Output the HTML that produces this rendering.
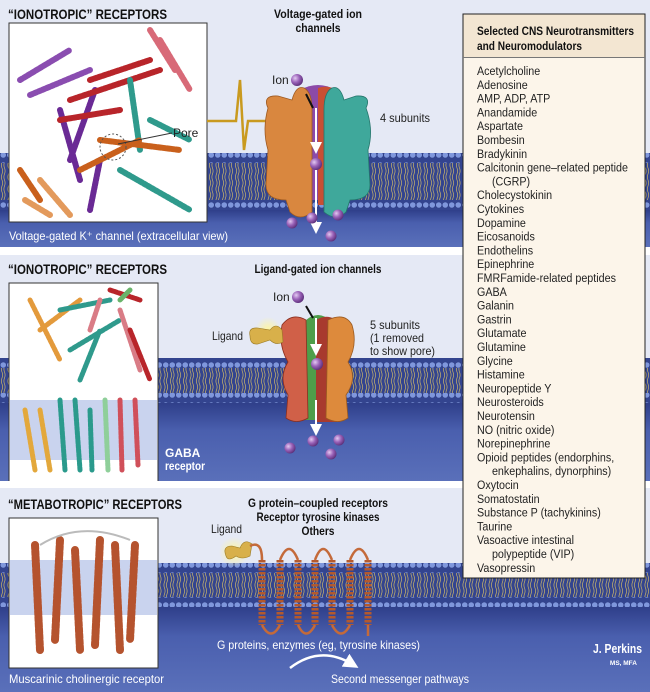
<!DOCTYPE html>
<html><head><meta charset="utf-8"><style>
html,body{margin:0;padding:0;background:#fff}
svg{display:block}
text{font-family:"Liberation Sans Narrow","Liberation Sans",sans-serif}
.h{font-weight:bold;font-size:14px;fill:#111}
.b{font-weight:bold;font-size:12px;fill:#111}
.t{font-size:12px;fill:#222}
.w{font-size:12px;fill:#fff}
.l{font-size:12.2px;fill:#222}
</style></head><body>
<svg width="650" height="692" viewBox="0 0 650 692" xmlns="http://www.w3.org/2000/svg">
<defs>
<pattern id="beads" width="6.5" height="10" patternUnits="userSpaceOnUse">
<rect width="6.5" height="10" fill="#33448f"/>
<circle cx="3.25" cy="5" r="3.1" fill="#7f97dc" stroke="#2d3d86" stroke-width="0.6"/>
</pattern>
<pattern id="tails" width="6.5" height="12" patternUnits="userSpaceOnUse">
<rect width="6.5" height="12" fill="#33448f"/>
<path d="M2 0 q1.2 3 0 6 q-1.2 3 0 6 M4.5 0 q1.2 3 0 6 q-1.2 3 0 6" stroke="#c9b46a" stroke-width="0.7" fill="none"/>
</pattern>
<linearGradient id="blue" x1="0" y1="0" x2="0" y2="1"><stop offset="0" stop-color="#2f3f8a"/><stop offset="0.35" stop-color="#4a5fae"/><stop offset="1" stop-color="#5a70ba"/></linearGradient>
<radialGradient id="ion" cx="0.35" cy="0.35" r="0.7"><stop offset="0" stop-color="#e3c9f2"/><stop offset="0.5" stop-color="#9a62b8"/><stop offset="1" stop-color="#5a2e78"/></radialGradient>
<radialGradient id="glow"><stop offset="0" stop-color="#fff6a0"/><stop offset="1" stop-color="#fff6a0" stop-opacity="0"/></radialGradient>
<marker id="ah" markerWidth="6" markerHeight="6" refX="3" refY="3" orient="auto"><path d="M0 0 L6 3 L0 6z" fill="#fff"/></marker>
</defs>

<!-- ========== PANEL 1 ========== -->
<rect x="0" y="0" width="650" height="247" fill="#e5e9f5"/>
<rect x="0" y="210" width="650" height="37" fill="url(#blue)"/>
<rect x="0" y="153" width="650" height="10" fill="url(#beads)"/>
<rect x="0" y="163" width="650" height="37" fill="url(#tails)"/>
<rect x="0" y="200" width="650" height="10" fill="url(#beads)"/>
<text x="8" y="19" class="h" textLength="159" lengthAdjust="spacingAndGlyphs">“IONOTROPIC” RECEPTORS</text>
<text x="318" y="18" class="b" text-anchor="middle" textLength="88" lengthAdjust="spacingAndGlyphs">Voltage-gated ion</text>
<text x="318" y="32" class="b" text-anchor="middle" textLength="45" lengthAdjust="spacingAndGlyphs">channels</text>
<rect x="9" y="23" width="198" height="199" fill="#fff" stroke="#333" stroke-width="1"/>
<g fill="none" stroke-width="6" stroke-dasharray="3 1.5" stroke-linecap="round">
<path d="M20 80 L70 50 M30 95 L90 70" stroke="#8a4db0"/>
<path d="M60 110 L80 180 M95 90 L70 160 M100 160 L90 210" stroke="#6a2a95"/>
<path d="M70 100 L160 70 M90 80 L150 60 M60 120 L120 110" stroke="#b8252a"/>
<path d="M160 40 L190 90 M150 30 L175 70" stroke="#d86a78"/>
<path d="M130 80 L140 150 M120 170 L190 210 M150 120 L190 140" stroke="#2f9a8c"/>
<path d="M100 140 L180 150 M80 170 L140 140 M20 170 L40 200" stroke="#c9601c"/>
<path d="M40 180 L70 215 M25 200 L50 215" stroke="#e39a5c"/>
</g>
<circle cx="113" cy="147" r="13" fill="none" stroke="#555" stroke-dasharray="2 2"/>
<line x1="118" y1="144" x2="172" y2="133" stroke="#333"/>
<text x="173" y="137" class="t">Pore</text>
<text x="9" y="240" class="w" textLength="219" lengthAdjust="spacingAndGlyphs">Voltage-gated K⁺ channel (extracellular view)</text>
<path d="M207 121 L236 121 L240 80 L244 150 L248 121 L270 121" stroke="#c99a1f" stroke-width="2.5" fill="none"/>
<path d="M268 116 L276 121 L268 126z" fill="#c99a1f"/>
<circle cx="276" cy="118" r="12" fill="url(#glow)"/>
<path d="M300 90 Q318 80 336 90 L336 200 L300 200z" fill="#8c4aa8"/>
<path d="M318 88 Q330 84 338 92 L338 205 L318 205z" fill="#c94f33"/>
<path d="M268 108 Q262 95 278 96 L292 100 Q296 85 304 88 Q312 92 312 110 L312 212 Q300 222 290 212 L286 200 Q266 200 266 185 L268 150 Q262 130 268 108z" fill="#d9873f" stroke="#9e5a22" stroke-width="0.8"/>
<path d="M366 108 Q372 95 356 96 L344 100 Q340 85 332 88 Q324 92 324 110 L324 212 Q336 222 346 212 L350 200 Q370 200 370 185 L368 150 Q374 130 366 108z" fill="#3fa89b" stroke="#25766c" stroke-width="0.8"/>
<line x1="306" y1="94" x2="313" y2="108" stroke="#111" stroke-width="2"/>
<line x1="316" y1="108" x2="316" y2="148" stroke="#fff" stroke-width="2" marker-end="url(#ah)"/>
<line x1="316" y1="170" x2="316" y2="228" stroke="#fff" stroke-width="2" marker-end="url(#ah)"/>
<text x="272" y="84" class="t">Ion</text>
<circle cx="297" cy="80" r="6" fill="url(#ion)"/>
<circle cx="316" cy="164" r="6" fill="url(#ion)"/>
<circle cx="292" cy="223" r="5.5" fill="url(#ion)"/>
<circle cx="312" cy="218" r="5.5" fill="url(#ion)"/>
<circle cx="338" cy="215" r="5.5" fill="url(#ion)"/>
<circle cx="331" cy="236" r="5.5" fill="url(#ion)"/>
<text x="380" y="122" class="t" textLength="50" lengthAdjust="spacingAndGlyphs">4 subunits</text>

<!-- ========== PANEL 2 ========== -->
<rect x="0" y="255" width="650" height="227" fill="#e5e9f5"/>
<rect x="0" y="403" width="650" height="79" fill="url(#blue)"/>
<rect x="0" y="358" width="650" height="10" fill="url(#beads)"/>
<rect x="0" y="368" width="650" height="25" fill="url(#tails)"/>
<rect x="0" y="393" width="650" height="10" fill="url(#beads)"/>
<text x="8" y="274" class="h" textLength="159" lengthAdjust="spacingAndGlyphs">“IONOTROPIC” RECEPTORS</text>
<text x="318" y="273" class="b" text-anchor="middle" textLength="127" lengthAdjust="spacingAndGlyphs">Ligand-gated ion channels</text>
<rect x="9" y="283" width="149" height="200" fill="#fff" stroke="#333"/>
<rect x="10" y="400" width="147" height="60" fill="#c9d3ee"/>
<g fill="none" stroke-width="5" stroke-dasharray="3 1.5" stroke-linecap="round">
<path d="M30 300 L60 360 M40 330 L80 300" stroke="#e39a3c"/>
<path d="M60 310 L110 300 M70 350 L120 320 M80 380 L100 330" stroke="#2f9a8c"/>
<path d="M100 300 L90 330 M120 310 L140 370" stroke="#d97c86"/>
<path d="M110 290 L140 300 M130 330 L150 380" stroke="#b8252a"/>
<path d="M120 300 L130 290" stroke="#69b46a"/>
<path d="M25 410 L35 470 M40 410 L50 470" stroke="#e3a83c"/>
<path d="M60 400 L65 470 M75 400 L80 470 M90 410 L92 470" stroke="#2a9a8c"/>
<path d="M105 400 L108 470" stroke="#8fcf9a"/>
<path d="M120 400 L122 470 M135 400 L138 465" stroke="#d0505a"/>
</g>
<text x="165" y="457" class="w" font-weight="bold">GABA</text>
<text x="165" y="470" class="w" font-weight="bold" textLength="40" lengthAdjust="spacingAndGlyphs">receptor</text>
<path d="M304 322 Q318 308 332 322 L332 420 L304 420z" fill="#4e9e4a"/>
<path d="M316 320 Q330 312 340 324 L340 422 L316 422z" fill="#a83a2e"/>
<path d="M282 325 Q292 312 306 320 L308 418 Q296 425 286 418 L288 395 Q278 378 288 362 Q278 345 282 325z" fill="#d06048" stroke="#8a2f20" stroke-width="0.8"/>
<path d="M352 325 Q345 312 328 320 L326 418 Q338 425 348 418 L346 395 Q358 378 348 362 Q358 345 352 325z" fill="#dd8a3c" stroke="#9a5a20" stroke-width="0.8"/>
<circle cx="268" cy="330" r="13" fill="url(#glow)"/>
<path d="M250 336 Q248 327 258 328 L270 330 Q276 322 282 330 L283 342 Q276 346 270 340 L258 344 Q250 345 250 336z" fill="#d8b04a" stroke="#9a7a24" stroke-width="0.6"/>
<line x1="306" y1="306" x2="313" y2="318" stroke="#111" stroke-width="2"/>
<line x1="316" y1="318" x2="316" y2="350" stroke="#fff" stroke-width="2" marker-end="url(#ah)"/>
<line x1="316" y1="400" x2="316" y2="430" stroke="#fff" stroke-width="2" marker-end="url(#ah)"/>
<text x="273" y="301" class="t">Ion</text>
<circle cx="298" cy="297" r="6" fill="url(#ion)"/>
<circle cx="317" cy="364" r="6" fill="url(#ion)"/>
<text x="212" y="340" class="t" textLength="31" lengthAdjust="spacingAndGlyphs">Ligand</text>
<text x="370" y="329" class="t" textLength="50" lengthAdjust="spacingAndGlyphs">5 subunits</text>
<text x="370" y="342" class="t" textLength="54" lengthAdjust="spacingAndGlyphs">(1 removed</text>
<text x="370" y="355" class="t" textLength="65" lengthAdjust="spacingAndGlyphs">to show pore)</text>
<circle cx="290" cy="448" r="5.5" fill="url(#ion)"/>
<circle cx="313" cy="441" r="5.5" fill="url(#ion)"/>
<circle cx="339" cy="440" r="5.5" fill="url(#ion)"/>
<circle cx="331" cy="454" r="5.5" fill="url(#ion)"/>

<!-- ========== PANEL 3 ========== -->
<rect x="0" y="488" width="650" height="204" fill="#e5e9f5"/>
<rect x="0" y="607" width="650" height="85" fill="url(#blue)"/>
<rect x="0" y="563" width="650" height="10" fill="url(#beads)"/>
<rect x="0" y="573" width="650" height="24" fill="url(#tails)"/>
<rect x="0" y="597" width="650" height="10" fill="url(#beads)"/>
<text x="8" y="509" class="h" textLength="174" lengthAdjust="spacingAndGlyphs">“METABOTROPIC” RECEPTORS</text>
<text x="318" y="507" class="b" text-anchor="middle" textLength="140" lengthAdjust="spacingAndGlyphs">G protein–coupled receptors</text>
<text x="318" y="521" class="b" text-anchor="middle" textLength="123" lengthAdjust="spacingAndGlyphs">Receptor tyrosine kinases</text>
<text x="318" y="535" class="b" text-anchor="middle" textLength="33" lengthAdjust="spacingAndGlyphs">Others</text>
<rect x="9" y="518" width="149" height="150" fill="#fff" stroke="#333"/>
<rect x="10" y="560" width="147" height="55" fill="#c9d3ee"/>
<g fill="none" stroke-width="8" stroke-dasharray="4 2" stroke-linecap="round" stroke="#b5532e">
<path d="M35 545 L40 650 M60 540 L55 640 M75 550 L80 650 M100 540 L95 645 M115 545 L120 650 M135 545 L130 640"/>
</g>
<path d="M40 545 Q80 520 130 540" stroke="#bbb" stroke-width="2" fill="none"/>
<text x="9" y="683" class="w" textLength="155" lengthAdjust="spacingAndGlyphs">Muscarinic cholinergic receptor</text>
<circle cx="234" cy="552" r="15" fill="url(#glow)"/>
<path d="M226 556 Q222 546 232 546 L240 548 Q244 538 252 544 L250 556 Q242 560 236 556 Q228 562 226 556z" fill="#d8b04a" stroke="#9a7a24" stroke-width="0.6"/>
<path d="M250 546 Q262 540 262 560" stroke="#c46a3a" stroke-width="2.5" fill="none"/>
<g fill="none" stroke="#b5592c" stroke-width="7" stroke-dasharray="2.5 1.5">
<path d="M262 560 L262 625 M280 560 L280 625 M298 560 L298 625 M315 560 L315 625 M332 560 L332 625 M350 560 L350 625 M368 560 L368 625"/>
</g>
<g fill="none" stroke="#c46a3a" stroke-width="2.5">
<path d="M280 560 Q289 538 298 560 M315 560 Q323 538 332 560 M350 560 Q359 538 368 560"/>
<path d="M262 625 Q271 642 280 625 M298 625 Q306 642 315 625 M332 625 Q341 642 350 625 M368 625 L368 636"/>
</g>
<text x="211" y="533" class="t" textLength="31" lengthAdjust="spacingAndGlyphs">Ligand</text>
<text x="217" y="649" class="w" textLength="203" lengthAdjust="spacingAndGlyphs">G proteins, enzymes (eg, tyrosine kinases)</text>
<path d="M290 668 Q320 645 352 664" stroke="#fff" stroke-width="2.5" fill="none" marker-end="url(#ah)"/>
<text x="331" y="683" class="w" textLength="138" lengthAdjust="spacingAndGlyphs">Second messenger pathways</text>
<text x="642" y="653" text-anchor="end" textLength="49" lengthAdjust="spacingAndGlyphs" style="font-size:13px;font-weight:bold;fill:#fff">J. Perkins</text>
<text x="637" y="665" text-anchor="end" style="font-size:6.5px;font-weight:bold;fill:#fff">MS, MFA</text>

<rect x="0" y="247" width="650" height="8" fill="#fff"/>
<rect x="0" y="481" width="650" height="7" fill="#fff"/>

<!-- ========== LIST BOX ========== -->
<rect x="463" y="14" width="182" height="564" fill="#fcf5ea" stroke="#222" stroke-width="1"/>
<rect x="463.5" y="14.5" width="181" height="43" fill="#f3e6d2"/>
<line x1="463" y1="57.5" x2="645" y2="57.5" stroke="#777"/>
<text x="477" y="35" class="b" textLength="157" lengthAdjust="spacingAndGlyphs">Selected CNS Neurotransmitters</text>
<text x="477" y="50" class="b" textLength="105" lengthAdjust="spacingAndGlyphs">and Neuromodulators</text>
<g transform="translate(477 0) scale(0.88 1) translate(-477 0)">
<text x="477" y="75" class="l">Acetylcholine</text>
<text x="477" y="88.8" class="l">Adenosine</text>
<text x="477" y="102.6" class="l">AMP, ADP, ATP</text>
<text x="477" y="116.4" class="l">Anandamide</text>
<text x="477" y="130.2" class="l">Aspartate</text>
<text x="477" y="144" class="l">Bombesin</text>
<text x="477" y="157.8" class="l">Bradykinin</text>
<text x="477" y="171.6" class="l">Calcitonin gene–related peptide</text>
<text x="494" y="185.4" class="l">(CGRP)</text>
<text x="477" y="199.2" class="l">Cholecystokinin</text>
<text x="477" y="213" class="l">Cytokines</text>
<text x="477" y="226.8" class="l">Dopamine</text>
<text x="477" y="240.6" class="l">Eicosanoids</text>
<text x="477" y="254.4" class="l">Endothelins</text>
<text x="477" y="268.2" class="l">Epinephrine</text>
<text x="477" y="282" class="l">FMRFamide-related peptides</text>
<text x="477" y="295.8" class="l">GABA</text>
<text x="477" y="309.6" class="l">Galanin</text>
<text x="477" y="323.4" class="l">Gastrin</text>
<text x="477" y="337.2" class="l">Glutamate</text>
<text x="477" y="351" class="l">Glutamine</text>
<text x="477" y="364.8" class="l">Glycine</text>
<text x="477" y="378.6" class="l">Histamine</text>
<text x="477" y="392.4" class="l">Neuropeptide Y</text>
<text x="477" y="406.2" class="l">Neurosteroids</text>
<text x="477" y="420" class="l">Neurotensin</text>
<text x="477" y="433.8" class="l">NO (nitric oxide)</text>
<text x="477" y="447.6" class="l">Norepinephrine</text>
<text x="477" y="461.4" class="l">Opioid peptides (endorphins,</text>
<text x="494" y="475.2" class="l">enkephalins, dynorphins)</text>
<text x="477" y="489" class="l">Oxytocin</text>
<text x="477" y="502.8" class="l">Somatostatin</text>
<text x="477" y="516.6" class="l">Substance P (tachykinins)</text>
<text x="477" y="530.4" class="l">Taurine</text>
<text x="477" y="544.2" class="l">Vasoactive intestinal</text>
<text x="494" y="558" class="l">polypeptide (VIP)</text>
<text x="477" y="571.8" class="l">Vasopressin</text>
</g>
</svg>
</body></html>
